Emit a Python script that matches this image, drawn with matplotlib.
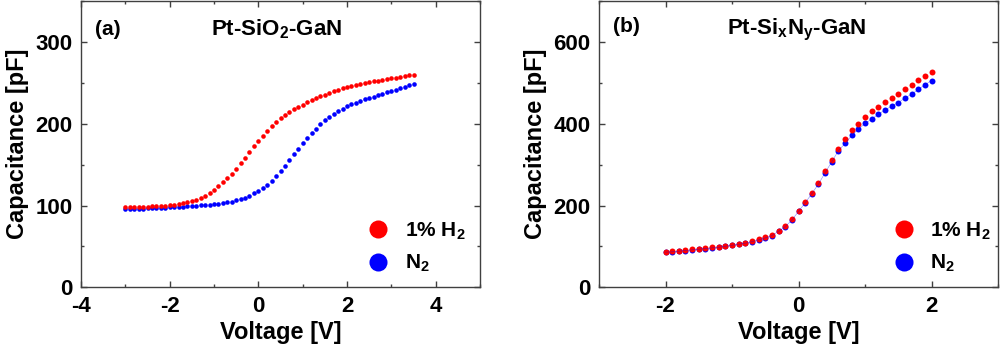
import matplotlib
matplotlib.use("Agg")
import matplotlib.pyplot as plt
from matplotlib.ticker import MultipleLocator
from matplotlib.lines import Line2D

plt.rcParams['font.family'] = ['Liberation Sans', 'DejaVu Sans']
plt.rcParams['font.weight'] = 'bold'
plt.rcParams['mathtext.fontset'] = 'custom'
plt.rcParams['mathtext.rm'] = 'Liberation Sans:bold'
plt.rcParams['mathtext.default'] = 'rm'
plt.rcParams['axes.unicode_minus'] = False

# panel (a): Pt-SiO2-GaN
volt_a = [-3.0, -2.9, -2.8, -2.7, -2.6, -2.5, -2.4, -2.3, -2.2, -2.1,
          -2.0, -1.9, -1.8, -1.7, -1.6, -1.5, -1.4, -1.3, -1.2, -1.1,
          -1.0, -0.9, -0.8, -0.7, -0.6, -0.5, -0.4, -0.3, -0.2, -0.1,
          0.0, 0.1, 0.2, 0.3, 0.4, 0.5, 0.6, 0.7, 0.8, 0.9,
          1.0, 1.1, 1.2, 1.3, 1.4, 1.5, 1.6, 1.7, 1.8, 1.9,
          2.0, 2.1, 2.2, 2.3, 2.4, 2.5, 2.6, 2.7, 2.8, 2.9,
          3.0, 3.1, 3.2, 3.3, 3.4, 3.5]
h2_a = [98.0, 98.1, 98.2, 98.4, 98.6, 98.8, 99.0, 99.3, 99.6, 100.0,
        100.5, 101.0, 101.7, 102.6, 103.8, 105.2, 107.0, 109.3, 112.0, 115.5,
        119.5, 124.0, 128.5, 133.5, 139.0, 145.0, 151.5, 158.5, 165.5, 172.5,
        179.0, 185.5, 191.5, 197.0, 202.0, 206.5, 210.5, 214.3, 217.8, 220.6,
        223.2, 226.0, 228.8, 231.3, 233.6, 235.7, 237.7, 239.6, 241.4, 243.1,
        244.6, 246.0, 247.3, 248.5, 249.6, 250.7, 251.7, 252.7, 253.7, 254.6,
        255.5, 256.4, 257.3, 258.2, 259.1, 260.0]
n2_a = [95.5, 95.7, 95.9, 96.1, 96.3, 96.5, 96.7, 96.9, 97.2, 97.5,
        97.8, 98.1, 98.4, 98.7, 99.0, 99.3, 99.7, 100.1, 100.5, 101.0,
        101.5, 102.1, 102.9, 103.8, 104.9, 106.2, 107.8, 109.7, 112.0, 114.7,
        117.8, 121.4, 125.5, 130.5, 136.0, 142.0, 148.5, 155.5, 162.5, 169.5,
        176.0, 182.3, 188.3, 194.0, 199.3, 204.0, 208.3, 212.1, 215.5, 218.5,
        221.2, 223.6, 225.8, 227.8, 229.7, 231.5, 233.2, 234.9, 236.6, 238.3,
        240.0, 241.7, 243.4, 245.1, 246.8, 248.5]

# panel (b): Pt-SixNy-GaN
volt_b = [-2.0, -1.9, -1.8, -1.7, -1.6, -1.5, -1.4, -1.3, -1.2, -1.1,
          -1.0, -0.9, -0.8, -0.7, -0.6, -0.5, -0.4, -0.3, -0.2, -0.1,
          0.0, 0.1, 0.2, 0.3, 0.4, 0.5, 0.6, 0.7, 0.8, 0.9,
          1.0, 1.1, 1.2, 1.3, 1.4, 1.5, 1.6, 1.7, 1.8, 1.9, 2.0]
h2_b = [87.1, 87.9, 89.6, 91.2, 92.8, 94.5, 96.1, 97.7, 99.3, 101.8,
        104.2, 106.7, 109.1, 113.2, 117.3, 122.1, 127.8, 138.4, 149.8, 166.1,
        187.3, 208.5, 231.3, 255.7, 284.2, 311.0, 338.7, 363.2, 384.3, 399.8,
        415.3, 430.0, 441.4, 453.6, 463.3, 472.3, 485.3, 495.1, 506.5, 516.3, 527.7]
n2_b = [86.0, 86.8, 88.4, 90.0, 91.6, 93.3, 94.9, 96.5, 98.1, 100.5,
        102.9, 105.4, 107.8, 111.8, 116.0, 120.8, 126.5, 137.0, 148.5, 164.5,
        185.5, 206.5, 229.0, 252.5, 280.1, 307.0, 333.9, 351.8, 371.3, 386.8,
        400.6, 411.2, 423.4, 433.2, 443.0, 451.9, 462.5, 472.3, 483.7, 495.1, 505.7]

labels = ['1% H$_2$', 'N$_2$']
red = '#ff0000'
blue = '#0000ff'
spine_col = '#404040'

fig = plt.figure(figsize=(10, 3.47), dpi=100)
ax1 = fig.add_axes([0.081, 0.172, 0.399, 0.825])
ax2 = fig.add_axes([0.599, 0.172, 0.399, 0.825])


def style(ax):
    for s in ax.spines.values():
        s.set_color(spine_col)
        s.set_linewidth(1.0)
    ax.tick_params(which='both', direction='in', top=True, right=True,
                   color=spine_col, labelsize=16, pad=6)
    ax.tick_params(which='major', length=4, width=1)
    ax.tick_params(which='minor', length=2, width=1)
    ax.set_xlabel('Voltage [V]', fontsize=17, fontweight='bold', labelpad=3)
    ax.set_ylabel('Capacitance [pF]', fontsize=17, fontweight='bold', labelpad=5)


# (a)
ax1.plot(volt_a, n2_a, 'o', color=blue, ms=3.3, mew=0)
ax1.plot(volt_a, h2_a, 'o', color=red, ms=3.3, mew=0)
ax1.set_xlim(-4, 5)
ax1.set_ylim(0, 350)
ax1.xaxis.set_major_locator(MultipleLocator(2))
ax1.xaxis.set_minor_locator(MultipleLocator(1))
ax1.yaxis.set_major_locator(MultipleLocator(100))
ax1.yaxis.set_minor_locator(MultipleLocator(50))
style(ax1)
ax1.text(0.035, 0.9, '(a)', transform=ax1.transAxes, fontsize=15,
         fontweight='bold', va='center')
ax1.text(0.49, 0.9, 'Pt-SiO$_2$-GaN', transform=ax1.transAxes, fontsize=16,
         fontweight='bold', va='center', ha='center')

# (b)
ax2.plot(volt_b, n2_b, 'o', color=blue, ms=4.3, mew=0)
ax2.plot(volt_b, h2_b, 'o', color=red, ms=4.3, mew=0)
ax2.plot(volt_b, n2_b, '-', color=blue, lw=0.4, alpha=0.5)
ax2.set_xlim(-3, 3)
ax2.set_ylim(0, 700)
ax2.xaxis.set_major_locator(MultipleLocator(2))
ax2.xaxis.set_minor_locator(MultipleLocator(1))
ax2.yaxis.set_major_locator(MultipleLocator(200))
ax2.yaxis.set_minor_locator(MultipleLocator(100))
style(ax2)
ax2.text(0.035, 0.91, '(b)', transform=ax2.transAxes, fontsize=15,
         fontweight='bold', va='center')
ax2.text(0.495, 0.9, 'Pt-Si$_x$N$_y$-GaN', transform=ax2.transAxes, fontsize=16,
         fontweight='bold', va='center', ha='center')

handles = [Line2D([], [], ls='none', marker='o', ms=13, mew=0, color=red),
           Line2D([], [], ls='none', marker='o', ms=13, mew=0, color=blue)]
for ax, anchor in ((ax1, (1.01, -0.02)), (ax2, (1.03, -0.02))):
    ax.legend(handles, labels, loc='lower right', bbox_to_anchor=anchor,
              frameon=False, prop={'size': 15, 'weight': 'bold'},
              handlelength=1.0, handletextpad=0.75, labelspacing=0.55)

fig.savefig('out.png', dpi=100)
